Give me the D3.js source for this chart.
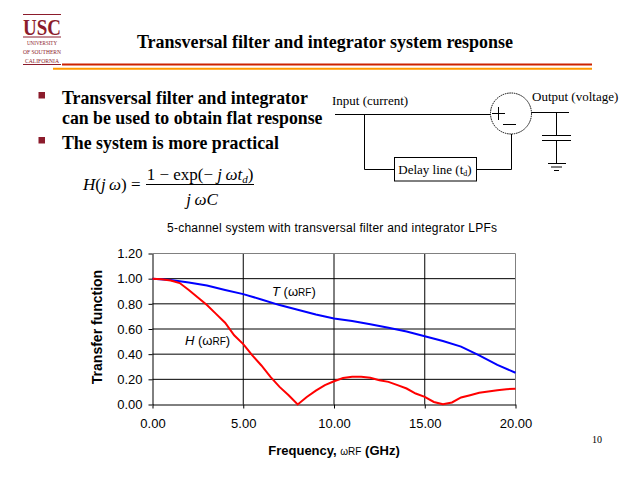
<!DOCTYPE html>
<html>
<head>
	<script src="https://d3js.org/d3.v7.min.js"></script>
	<meta charset="UTF-8">
	<style>
		body{ margin:0; background-color:#ffffff; }
		svg{ display:block; }
	</style>
</head>
<body>
	<script type="text/javascript">
		// data
		var xTicks = [0, 5, 10, 15, 20];
		var yTicks = [0, 0.2, 0.4, 0.6, 0.8, 1.0, 1.2];

		var tFreq = [0,1,2,3,4,5,6,7,8,9,10,11,12,13,14,15,16,17,18,19,20];
		var tVal  = [1.00,0.99,0.97,0.945,0.91,0.877,0.835,0.79,0.753,0.715,0.683,0.663,0.638,0.61,0.58,0.543,0.505,0.46,0.39,0.315,0.252];

		var hFreq = [0,0.5,1,1.5,2,2.5,3,3.5,4,4.5,5,5.5,6,6.5,7,7.5,8,8.5,9,9.5,10,10.5,11,11.5,12,12.5,13,13.5,14,14.5,15,15.5,16,16.5,17,17.5,18,18.5,19,19.5,20];
		var hVal  = [1.00,0.995,0.985,0.965,0.91,0.85,0.79,0.72,0.65,0.55,0.48,0.39,0.31,0.22,0.14,0.074,0.0,0.06,0.11,0.154,0.185,0.21,0.22,0.22,0.212,0.193,0.18,0.154,0.127,0.087,0.061,0.02,0.003,0.016,0.056,0.074,0.093,0.103,0.114,0.122,0.125];

		var bullets = [
			["Transversal filter and integrator", "can be used to obtain flat response"],
			["The system is more practical"]
		];

		var w = 640, h = 480;
		var serif = "'Liberation Serif', 'Times New Roman', serif";
		var sans = "'Liberation Sans', Arial, sans-serif";
		var usc = "#8c1c2c";

		var svg = d3.select("body").append("svg").attr("width", w).attr("height", h);

		//logo
		var logo = svg.append("g");
		logo.append("line").attr("x1", 23).attr("x2", 61).attr("y1", 14.5).attr("y2", 14.5).attr("stroke", usc).attr("stroke-width", 1);
		logo.append("text").attr("x", 42).attr("y", 34.5).attr("text-anchor", "middle").style("font-family", serif).style("font-size", "23px").style("font-weight", "bold").attr("fill", usc).attr("textLength", 38).attr("lengthAdjust", "spacingAndGlyphs").text("USC");
		logo.append("line").attr("x1", 23).attr("x2", 61).attr("y1", 37).attr("y2", 37).attr("stroke", usc).attr("stroke-width", 1);
		logo.append("text").attr("x", 42).attr("y", 45).attr("text-anchor", "middle").style("font-family", serif).style("font-size", "6px").attr("fill", usc).attr("textLength", 30).attr("lengthAdjust", "spacingAndGlyphs").text("UNIVERSITY");
		logo.append("text").attr("x", 42).attr("y", 54).attr("text-anchor", "middle").style("font-family", serif).style("font-size", "6px").attr("fill", usc).attr("textLength", 38).attr("lengthAdjust", "spacingAndGlyphs").text("OF SOUTHERN");
		logo.append("text").attr("x", 42).attr("y", 63).attr("text-anchor", "middle").style("font-family", serif).style("font-size", "6px").attr("fill", usc).attr("textLength", 34).attr("lengthAdjust", "spacingAndGlyphs").text("CALIFORNIA");
		logo.append("line").attr("x1", 23).attr("x2", 61).attr("y1", 64.5).attr("y2", 64.5).attr("stroke", usc).attr("stroke-width", 1);

		//title + rules
		svg.append("text").attr("x", 325).attr("y", 48).attr("text-anchor", "middle").style("font-family", serif).style("font-size", "18px").style("font-weight", "bold").attr("fill", "black").text("Transversal filter and integrator system response");
		svg.append("line").attr("x1", 62).attr("x2", 592).attr("y1", 64.5).attr("y2", 64.5).attr("stroke", "#cc2200").attr("stroke-width", 2);
		svg.append("line").attr("x1", 53).attr("x2", 592).attr("y1", 68.7).attr("y2", 68.7).attr("stroke", "#ff9900").attr("stroke-width", 2);

		//bullets
		var by = [103.5, 148.5];
		bullets.forEach(function(lines, i){
			svg.append("rect").attr("x", 38.5).attr("y", by[i] - 11.5).attr("width", 6.5).attr("height", 6.5).attr("fill", "#8c1c2c");
			lines.forEach(function(t, j){
				svg.append("text").attr("x", 62).attr("y", by[i] + j * 20.5).style("font-family", serif).style("font-size", "17.8px").style("font-weight", "bold").attr("fill", "black").text(t);
			});
		});

		//formula
		var f = svg.append("g").style("font-family", serif).attr("fill", "black");
		var lhs = f.append("text").attr("x", 83).attr("y", 190).style("font-size", "17px");
		lhs.append("tspan").style("font-style", "italic").text("H");
		lhs.append("tspan").text("(");
		lhs.append("tspan").style("font-style", "italic").text("j\u2009\u03c9");
		lhs.append("tspan").text(") =");
		var num = f.append("text").attr("x", 200).attr("y", 180).attr("text-anchor", "middle").style("font-size", "17px");
		num.append("tspan").text("1 \u2212 exp(\u2212 ");
		num.append("tspan").style("font-style", "italic").text("j\u2009\u03c9t");
		num.append("tspan").style("font-style", "italic").style("font-size", "11px").attr("dy", 3).text("d");
		num.append("tspan").attr("dy", -3).text(")");
		f.append("line").attr("x1", 146).attr("x2", 254).attr("y1", 184.5).attr("y2", 184.5).attr("stroke", "black").attr("stroke-width", 1);
		f.append("text").attr("x", 202).attr("y", 205).attr("text-anchor", "middle").style("font-size", "17px").style("font-style", "italic").text("j\u2009\u03c9C");

		//circuit
		var c = svg.append("g").attr("stroke", "black").attr("stroke-width", 1).attr("fill", "none");
		c.append("path").attr("d", "M335,114.5 H490.5");
		c.append("path").attr("d", "M364.5,114.5 V169.5 H394.5");
		c.append("rect").attr("x", 394.5).attr("y", 157.5).attr("width", 82).attr("height", 23.5);
		c.append("path").attr("d", "M476.5,169.5 H511.5 V134");
		c.append("circle").attr("cx", 511).attr("cy", 113.5).attr("r", 20.5).attr("stroke-dasharray", "1.5,0.8");
		c.append("path").attr("d", "M531.5,112.5 H569");
		c.append("path").attr("d", "M556.5,112.5 V135.5 M542,135.5 H571 M542,140.5 H571 M556.5,140.5 V163.5");
		c.append("path").attr("d", "M548,163.5 H566 M551,167 H562 M554,170.5 H559");
		c.append("path").attr("d", "M492,113.5 H505 M498.5,107 V120 M503,124.5 H516");
		var ct = svg.append("g").style("font-family", serif).style("font-size", "13px").attr("fill", "black");
		ct.append("text").attr("x", 332).attr("y", 105).text("Input  (current)");
		ct.append("text").attr("x", 532).attr("y", 101).text("Output (voltage)");
		var dl = ct.append("text").attr("x", 435).attr("y", 174).attr("text-anchor", "middle");
		dl.append("tspan").text("Delay line (t");
		dl.append("tspan").style("font-size", "8px").attr("dy", 2).text("d");
		dl.append("tspan").attr("dy", -2).text(")");

		//chart
		var xScale = d3.scaleLinear().domain([0, 20]).range([152.5, 515.5]);
		var yScale = d3.scaleLinear().domain([0, 1.2]).range([404.5, 253.5]);

		svg.append("text").attr("x", 332).attr("y", 232).attr("text-anchor", "middle").style("font-family", sans).style("font-size", "12px").attr("fill", "black").attr("textLength", 330).attr("lengthAdjust", "spacing").text("5-channel system with transversal filter and integrator LPFs");

		var grid = svg.append("g");
		grid.selectAll(".hg").data(yTicks.filter(function(d){ return d > 0 && d < 1.2; })).enter().append("line")
			.attr("x1", xScale(0)).attr("x2", xScale(20)).attr("y1", function(d){ return yScale(d); }).attr("y2", function(d){ return yScale(d); })
			.attr("stroke", "black").attr("stroke-width", 1);
		grid.selectAll(".vg").data(xTicks.filter(function(d){ return d > 0 && d < 20; })).enter().append("line")
			.attr("x1", function(d){ return xScale(d); }).attr("x2", function(d){ return xScale(d); }).attr("y1", yScale(1.2)).attr("y2", yScale(0))
			.attr("stroke", "black").attr("stroke-width", 1);
		grid.append("path").attr("d", "M" + xScale(0) + "," + yScale(1.2) + " H" + xScale(20) + " V" + yScale(0)).attr("fill", "none").attr("stroke", "#808080").attr("stroke-width", 1);

		var yAxis = d3.axisLeft(yScale).tickValues(yTicks).tickSize(4).tickSizeOuter(0).tickFormat(d3.format(".2f"));
		var xAxis = d3.axisBottom(xScale).tickValues(xTicks).tickSize(4).tickSizeOuter(0).tickFormat(d3.format(".2f"));
		var ya = svg.append("g").attr("transform", "translate(" + xScale(0) + ",0)").call(yAxis);
		var xa = svg.append("g").attr("transform", "translate(0," + yScale(0) + ")").call(xAxis);
		[ya, xa].forEach(function(a){
			a.select(".domain").attr("stroke", "black");
			a.selectAll(".tick line").attr("stroke", "black");
			a.selectAll("text").style("font-family", sans).style("font-size", "13px").attr("fill", "black");
		});
		ya.selectAll("text").attr("x", -10);
		xa.selectAll("text").attr("y", 14);

		var lineT = d3.line().x(function(d, i){ return xScale(tFreq[i]); }).y(function(d){ return yScale(d); });
		var lineH = d3.line().x(function(d, i){ return xScale(hFreq[i]); }).y(function(d){ return yScale(d); });
		svg.append("path").attr("stroke", "blue").attr("stroke-width", 2).attr("fill", "none").attr("d", lineT(tVal));
		svg.append("path").attr("stroke", "red").attr("stroke-width", 2).attr("fill", "none").attr("d", lineH(hVal));

		//curve labels
		function curveLabel(x, y, letter){
			var t = svg.append("text").attr("x", x).attr("y", y).style("font-family", sans).style("font-size", "13px").attr("fill", "black");
			t.append("tspan").style("font-style", "italic").text(letter);
			t.append("tspan").text(" (\u03c9");
			t.append("tspan").style("font-size", "10px").text("RF");
			t.append("tspan").text(")");
		}
		curveLabel(272, 296, "T");
		curveLabel(185, 345, "H");

		//axis titles
		svg.append("text").attr("transform", "translate(102,327) rotate(-90)").attr("text-anchor", "middle").style("font-family", sans).style("font-size", "14px").style("font-weight", "bold").attr("fill", "black").text("Transfer function");
		var xt = svg.append("text").attr("x", 334).attr("y", 455).attr("text-anchor", "middle").style("font-family", sans).style("font-size", "13px").style("font-weight", "bold").attr("fill", "black");
		xt.append("tspan").text("Frequency, ");
		xt.append("tspan").style("font-size", "10px").style("font-weight", "normal").text("\u03c9RF");
		xt.append("tspan").text(" (GHz)");

		svg.append("text").attr("x", 597).attr("y", 443).attr("text-anchor", "middle").style("font-family", serif).style("font-size", "10px").attr("fill", "black").text("10");
	</script>
</body>
</html>
